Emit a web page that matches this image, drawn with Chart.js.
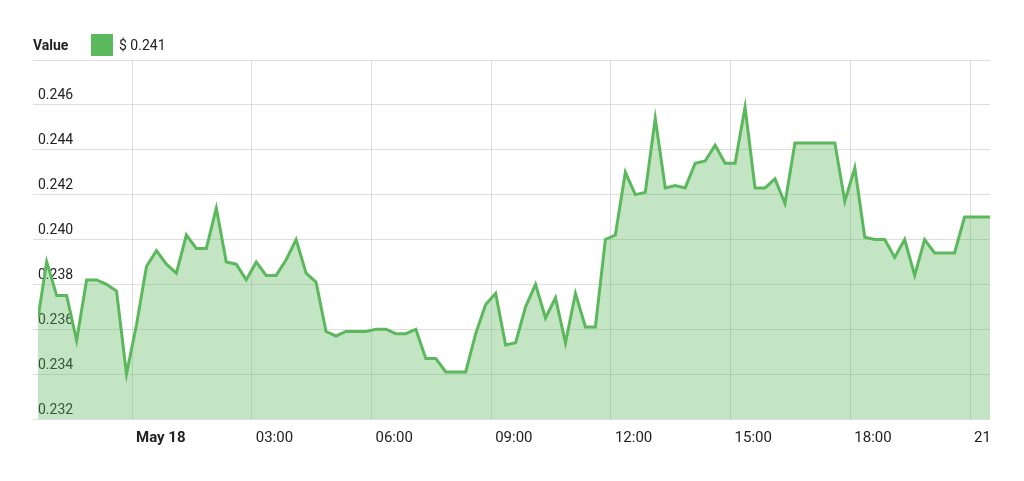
<!DOCTYPE html>
<html>
<head>
<meta charset="utf-8">
<script src="https://cdn.jsdelivr.net/npm/chart.js@4.4.1/dist/chart.umd.min.js"></script>
<style>
    body { margin: 0; background: #fff; font-family: Roboto, "Liberation Sans", Arial, sans-serif; }
    #wrap { position: relative; width: 1024px; height: 481px; }
    #header { position: absolute; left: 33px; top: 33px; height: 23px; display: flex; align-items: center; font-size: 14px; color: #222; }
    #header .title { font-weight: bold; width: 58px; }
    #header .swatch { width: 22px; height: 22px; background: #5cb85c; margin-right: 6px; }
</style>
</head>
<body>
<div id="wrap">
    <canvas id="chart" width="1024" height="481"></canvas>
    <div id="header"><span class="title">Value</span><span class="swatch"></span><span id="lastValue"></span></div>
</div>
<script>
// Price in $, sampled every 15 minutes (hours relative to May 18 00:00)
const values = [
    0.2365,
    0.2390, 0.2375, 0.2375, 0.2355, 0.2382, 0.2382, 0.2380, 0.2377, 0.2340, 0.2362,
    0.2388, 0.2395, 0.2389, 0.2385, 0.2402, 0.2396, 0.2396, 0.2414, 0.2390, 0.2389,
    0.2382, 0.2390, 0.2384, 0.2384, 0.2391, 0.2400, 0.2385, 0.2381, 0.2359, 0.2357,
    0.2359, 0.2359, 0.2359, 0.2360, 0.2360, 0.2358, 0.2358, 0.2360, 0.2347, 0.2347,
    0.2341, 0.2341, 0.2341, 0.2358, 0.2371, 0.2376, 0.2353, 0.2354, 0.2370, 0.2380,
    0.2365, 0.2374, 0.2354, 0.2376, 0.2361, 0.2361, 0.2400, 0.2402, 0.2430, 0.2420,
    0.2421, 0.2454, 0.2423, 0.2424, 0.2423, 0.2434, 0.2435, 0.2442, 0.2434, 0.2434,
    0.2459, 0.2423, 0.2423, 0.2427, 0.2416, 0.2443, 0.2443, 0.2443, 0.2443, 0.2443,
    0.2417, 0.2432, 0.2401, 0.2400, 0.2400, 0.2392, 0.2400, 0.2384, 0.2400, 0.2394,
    0.2394, 0.2394, 0.2410, 0.2410, 0.2410,
    0.2410
];

const firstHour = -2.356;   // start of range
const stepStart = -2.138;   // first regular sample
const lastHour = 21.5;      // now
const times = [firstHour];
for (let k = 0; k < values.length - 2; k++) times.push(stepStart + k * 0.25);
times.push(lastHour);

const xTicks = [0, 3, 6, 9, 12, 15, 18, 21];
const xTickLabels = ['May 18', '03:00', '06:00', '09:00', '12:00', '15:00', '18:00', '21'];
const yMin = 0.232;
const yMax = 0.248;
const yStep = 0.002;

document.getElementById('lastValue').textContent = '$ ' + values[values.length - 1].toFixed(3);

const gridColor = 'rgba(0, 0, 0, 0.13)';

new Chart(document.getElementById('chart'), {
    type: 'line',
    data: {
        datasets: [{
            data: values.map((v, i) => ({ x: times[i], y: v })),
            borderColor: '#5cb85c',
            backgroundColor: 'rgba(92, 184, 92, 0.36)',
            borderWidth: 3,
            fill: 'start',
            tension: 0,
            pointRadius: 0,
            clip: 0
        }]
    },
    options: {
        responsive: false,
        devicePixelRatio: 1,
        animation: false,
        layout: { padding: { left: 33, right: 34, top: 60, bottom: 24 } },
        plugins: { legend: { display: false }, tooltip: { enabled: false } },
        scales: {
            x: {
                type: 'linear',
                min: firstHour,
                max: lastHour,
                afterBuildTicks: scale => { scale.ticks = xTicks.map(v => ({ value: v })); },
                border: { display: false },
                grid: { color: gridColor, drawTicks: false },
                ticks: {
                    align: 'start',
                    labelOffset: 4,
                    padding: 10,
                    autoSkip: false,
                    maxRotation: 0,
                    color: '#222',
                    font: ctx => ({ family: 'Roboto', size: 15, weight: ctx.index === 0 ? 'bold' : 'normal' }),
                    callback: (value, index) => xTickLabels[index]
                }
            },
            y: {
                min: yMin,
                max: yMax,
                border: { display: false },
                grid: { color: gridColor, tickColor: gridColor, tickLength: 5 },
                ticks: {
                    stepSize: yStep,
                    mirror: true,
                    padding: 0,
                    labelOffset: -9,
                    color: '#222',
                    font: { family: 'Roboto', size: 14 },
                    callback: value => value >= yMax - 1e-9 ? '' : value.toFixed(3)
                }
            }
        }
    }
});
</script>
</body>
</html>
